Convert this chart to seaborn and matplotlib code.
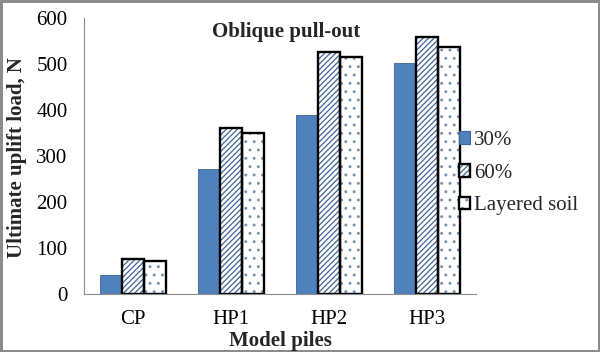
import matplotlib
matplotlib.use("Agg")
import matplotlib.pyplot as plt
import seaborn as sns
import pandas as pd
from matplotlib.patches import Patch, Rectangle
from matplotlib.colors import to_rgba

categories = ["CP", "HP1", "HP2", "HP3"]
series_names = ["30%", "60%", "Layered soil"]
vals_30 = [41, 272, 389, 502]
vals_60 = [77, 360, 526, 558]
vals_layered = [72, 349, 515, 536]

rows = []
for s, vals in zip(series_names, [vals_30, vals_60, vals_layered]):
    for c, v in zip(categories, vals):
        rows.append({"pile": c, "series": s, "load": v})
df = pd.DataFrame(rows)

sns.set_style("white")
plt.rcParams["font.family"] = ["Liberation Serif", "DejaVu Serif"]
plt.rcParams["hatch.linewidth"] = 0.9

FS = 15
fig = plt.figure(figsize=(6.0, 3.52), dpi=100, edgecolor="#8c8c8c", linewidth=2.5)
ax = fig.add_axes([84/600, 58/352, (476-84)/600, (294-18)/352])

blue = "#4f81bd"
blue_edge = "#3b6496"
hatch_blue = "#3f6597"
dot_col = "#7890b0"
sns.barplot(data=df, x="pile", y="load", hue="series", order=categories,
            hue_order=series_names, width=0.67, gap=0, ax=ax,
            palette=[blue, "white", "white"], legend=False, errorbar=None,
            saturation=1)

n = len(categories)
patches = [p for p in ax.patches]
for i, p in enumerate(patches[:3*n]):
    k = i // n
    if k == 0:
        p.set_facecolor(blue)
        p.set_edgecolor(blue_edge)
        p.set_linewidth(0.6)
    else:
        p.set_facecolor("white")
        p.set_hatch("//////" if k == 1 else "..")
        p.set_edgecolor(hatch_blue if k == 1 else dot_col)
        p.set_linewidth(0)
        r = Rectangle((p.get_x(), p.get_y()), p.get_width(), p.get_height(),
                      fill=False, edgecolor="black", linewidth=1.7, zorder=p.get_zorder()+0.1)
        ax.add_patch(r)

ax.set_ylim(0, 600)
ax.set_xlim(-0.5, n - 0.5)
ax.set_yticks([0, 100, 200, 300, 400, 500, 600])
ax.set_xticks(range(n))
ax.set_xticklabels(categories)
ax.tick_params(axis="both", labelsize=FS, colors="black")
ax.set_xticks([i - 0.5 for i in range(n + 1)], minor=True)
ax.tick_params(axis="x", which="minor", length=4.3, color="#8c8c8c", width=0.8, direction="out")
ax.tick_params(axis="x", which="major", length=0, pad=11.5)
ax.tick_params(axis="y", which="major", length=4.3, color="#8c8c8c", width=0.8, direction="out", pad=7.5)

for side in ["top", "right"]:
    ax.spines[side].set_visible(False)
for side in ["left", "bottom"]:
    ax.spines[side].set_color("#8c8c8c")
    ax.spines[side].set_linewidth(0.8)

ax.set_ylabel("Ultimate uplift load, N", fontsize=FS, fontweight="bold")
ax.yaxis.set_label_coords(-(84 - 17) / 392, (294 - 158) / 276)
ax.yaxis.label.set_va("center")
ax.set_xlabel("Model piles", fontsize=FS, fontweight="bold")
ax.xaxis.set_label_coords(0.5, (294 - 341) / 276)
ax.xaxis.label.set_va("center")
fig.text(286/600, 1 - 32/352, "Oblique pull-out", ha="center", va="center",
         fontsize=FS, fontweight="bold")

h1 = Patch(facecolor=blue, edgecolor=blue_edge, linewidth=0.8)
h2 = Patch(facecolor="white", edgecolor="black", linewidth=1.7, hatch="//////")
h3 = Patch(facecolor="white", edgecolor="black", linewidth=1.7, hatch="..")
h2._hatch_color = to_rgba(hatch_blue)
h3._hatch_color = to_rgba(dot_col)
fig.legend([h1, h2, h3], series_names, loc="upper left",
           bbox_to_anchor=(459/600, 1 - 131/352), frameon=False, fontsize=FS,
           handlelength=0.53, handleheight=0.53, handletextpad=0.2, labelspacing=0.66,
           borderaxespad=0, borderpad=0)

fig.savefig("out.png", dpi=100, edgecolor=fig.get_edgecolor(), facecolor="white")
